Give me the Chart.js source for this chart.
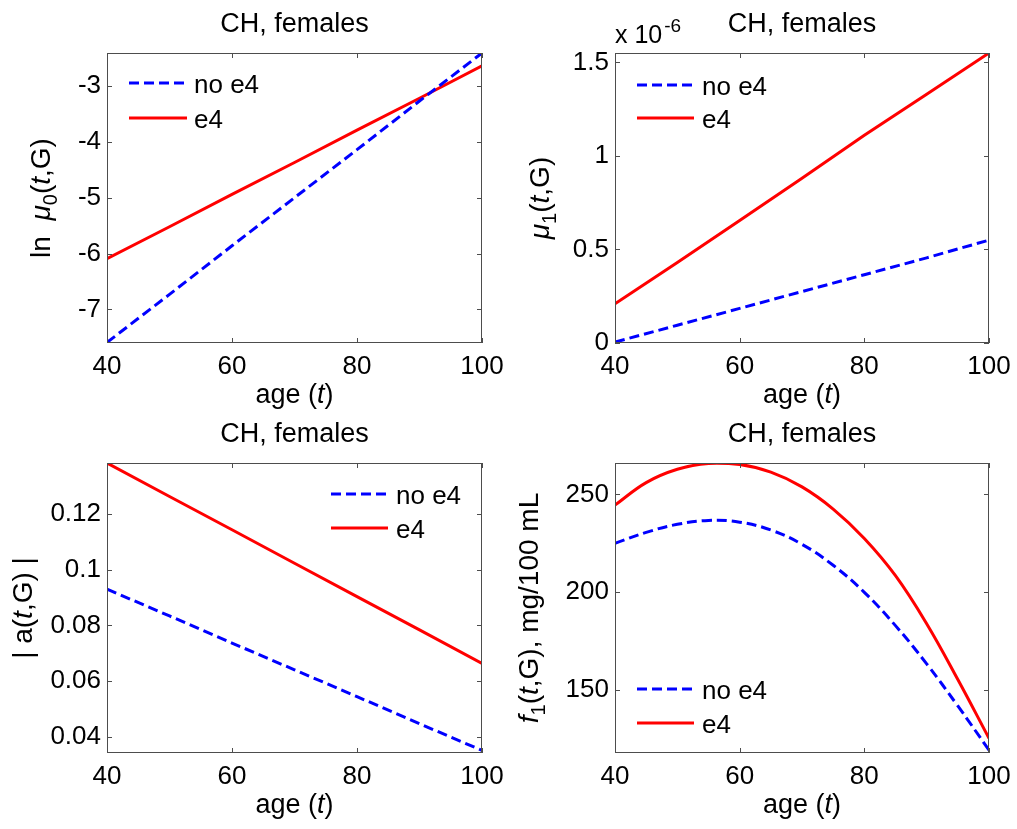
<!DOCTYPE html>
<html>
<head>
<meta charset="utf-8">
<title>CH, females</title>
<script src="https://cdn.jsdelivr.net/npm/chart.js@4.4.0/dist/chart.umd.min.js"></script>
<style>
  html, body { margin: 0; padding: 0; background: #fff; }
  #wrap { position: relative; width: 1017px; height: 829px; }
  #wrap canvas { position: absolute; left: 0; top: 0; }
</style>
</head>
<body>
<div id="wrap">
  <canvas id="c1" width="1017" height="829"></canvas>
  <canvas id="c2" width="1017" height="829"></canvas>
  <canvas id="c3" width="1017" height="829"></canvas>
  <canvas id="c4" width="1017" height="829"></canvas>
</div>
<script>
// data
const ageLin = [40, 50, 60, 70, 80, 90, 100]
const ageCurve = [40, 45, 50, 55, 60, 65, 70, 75, 80, 85, 90, 95, 100]

const lnMu0NoE4 = [-7.59, -6.73, -5.86, -5.00, -4.14, -3.27, -2.41]
const lnMu0E4 = [-6.09, -5.52, -4.94, -4.37, -3.79, -3.22, -2.64]

const mu1NoE4 = [0.005e-6, 0.095e-6, 0.185e-6, 0.275e-6, 0.365e-6, 0.455e-6, 0.55e-6]
const mu1E4 = [0.21e-6, 0.43e-6, 0.655e-6, 0.88e-6, 1.11e-6, 1.33e-6, 1.55e-6]

const aNoE4 = [0.0930, 0.0834, 0.0737, 0.0641, 0.0545, 0.0448, 0.0352]
const aE4 = [0.1382, 0.1262, 0.1143, 0.1023, 0.0903, 0.0784, 0.0664]

const f1NoE4 = [225, 230.6, 234.7, 236.7, 235.8, 231.8, 224.5, 213.8, 200, 183, 163.5, 142, 119.5]
const f1E4 = [244.5, 256, 262.8, 265.8, 265.2, 261.3, 253.8, 242.5, 227.5, 208.5, 184, 155.5, 125.5]

const xTicks = [40, 60, 80, 100]
const lnMu0Ticks = [-7, -6, -5, -4, -3]
const mu1Ticks = [0, 0.5e-6, 1e-6, 1.5e-6]
const aTicks = [0.04, 0.06, 0.08, 0.1, 0.12]
const f1Ticks = [150, 200, 250]

const seriesNames = ['no e4', 'e4']
const panelTitle = 'CH, females'

const FONT = '"Liberation Sans", Arial, Helvetica, sans-serif'
const W = 1017, H = 829

function drawParts(ctx, parts, x, y, rotate) {
    ctx.save()
    ctx.translate(x, y)
    if (rotate) ctx.rotate(-Math.PI / 2)
    const fontOf = p => (p.italic ? 'italic ' : '') + p.size + 'px ' + FONT
    let total = 0
    parts.forEach(p => {
        ctx.font = fontOf(p)
        p.w = ctx.measureText(p.text).width
        total += p.w
    })
    let cx = -total / 2
    ctx.textAlign = 'left'
    ctx.textBaseline = 'alphabetic'
    ctx.fillStyle = '#000'
    parts.forEach(p => {
        ctx.font = fontOf(p)
        ctx.fillText(p.text, cx, p.dy || 0)
        cx += p.w
    })
    ctx.restore()
}

const txt = (text, o) => Object.assign({ text: text, size: 28 }, o)
const sub = text => ({ text: text, size: 20, dy: 7 })

const matlabLook = {
    id: 'matlabLook',
    afterDraw(chart, args, o) {
        const ctx = chart.ctx
        const a = chart.chartArea
        const sx = chart.scales.x, sy = chart.scales.y
        ctx.save()
        ctx.strokeStyle = '#4d4d4d'
        ctx.lineWidth = 1
        ctx.strokeRect(a.left + 0.5, a.top + 0.5, a.right - a.left - 1, a.bottom - a.top - 1)
        ctx.beginPath()
        sx.ticks.forEach(t => {
            const px = Math.round(sx.getPixelForValue(t.value)) + 0.5
            ctx.moveTo(px, a.bottom); ctx.lineTo(px, a.bottom - 5)
            ctx.moveTo(px, a.top); ctx.lineTo(px, a.top + 5)
        })
        sy.ticks.forEach(t => {
            const py = Math.round(sy.getPixelForValue(t.value)) + 0.5
            ctx.moveTo(a.left, py); ctx.lineTo(a.left + 5, py)
            ctx.moveTo(a.right, py); ctx.lineTo(a.right - 5, py)
        })
        ctx.stroke()

        const cxm = (a.left + a.right) / 2
        const cym = (a.top + a.bottom) / 2
        drawParts(ctx, [txt(panelTitle, { size: 27 })], cxm, a.top - 21, false)
        drawParts(ctx, [txt('age (', { size: 27 }), txt('t', { size: 27, italic: true }), txt(')', { size: 27 })], cxm, a.bottom + 60, false)
        drawParts(ctx, o.yLabel, o.yLabelX, cym, true)

        if (o.exponent) {
            ctx.fillStyle = '#000'
            ctx.textAlign = 'left'
            ctx.textBaseline = 'alphabetic'
            ctx.font = '25px ' + FONT
            ctx.fillText('x 10', a.left, a.top - 10)
            const w = ctx.measureText('x 10').width
            ctx.font = '19px ' + FONT
            ctx.fillText('-6', a.left + w + 2, a.top - 21)
        }

        const lg = o.legend
        chart.data.datasets.forEach((ds, i) => {
            const y = lg.ys[i]
            ctx.strokeStyle = ds.borderColor
            ctx.lineWidth = ds.borderWidth
            ctx.setLineDash(ds.borderDash || [])
            ctx.beginPath()
            ctx.moveTo(lg.x1, y); ctx.lineTo(lg.x2, y)
            ctx.stroke()
            ctx.setLineDash([])
            ctx.fillStyle = '#000'
            ctx.font = '26px ' + FONT
            ctx.textAlign = 'left'
            ctx.textBaseline = 'alphabetic'
            ctx.fillText(ds.label, lg.tx, y + 10)
        })
        ctx.restore()
    }
}

function makePanel(id, box, ages, noE4, e4, yMin, yMax, yTicks, yFmt, yLabel, yLabelX, legend, smooth, exponent) {
    const pts = vals => vals.map((v, i) => ({ x: ages[i], y: v }))
    return new Chart(document.getElementById(id), {
        type: 'line',
        data: {
            datasets: [{
                label: seriesNames[0],
                data: pts(noE4),
                borderColor: '#0000ff',
                borderWidth: 3,
                borderDash: [10, 5],
                pointRadius: 0,
                tension: smooth ? 0.4 : 0,
                fill: false
            }, {
                label: seriesNames[1],
                data: pts(e4),
                borderColor: '#ff0000',
                borderWidth: 3,
                pointRadius: 0,
                tension: smooth ? 0.4 : 0,
                fill: false
            }]
        },
        options: {
            responsive: false,
            animation: false,
            events: [],
            layout: { padding: { left: 0, top: box.t, right: W - box.r, bottom: 0 } },
            plugins: {
                legend: { display: false },
                tooltip: { enabled: false },
                matlabLook: { yLabel: yLabel, yLabelX: yLabelX, legend: legend, exponent: exponent }
            },
            scales: {
                x: {
                    type: 'linear',
                    min: 40,
                    max: 100,
                    grid: { display: false, drawTicks: false },
                    border: { display: false },
                    afterBuildTicks: s => { s.ticks = xTicks.map(v => ({ value: v })) },
                    afterFit: s => { s.height = H - box.b; s.paddingLeft = 0; s.paddingRight = 0 },
                    ticks: {
                        padding: 8,
                        color: '#000',
                        maxRotation: 0,
                        font: { family: FONT, size: 26 },
                        callback: v => String(v)
                    }
                },
                y: {
                    type: 'linear',
                    min: yMin,
                    max: yMax,
                    grid: { display: false, drawTicks: false },
                    border: { display: false },
                    afterBuildTicks: s => { s.ticks = yTicks.map(v => ({ value: v })) },
                    afterFit: s => { s.width = box.l; s.paddingTop = 0; s.paddingBottom = 0 },
                    ticks: {
                        padding: 6,
                        color: '#000',
                        font: { family: FONT, size: 26 },
                        callback: yFmt
                    }
                }
            }
        },
        plugins: [matlabLook]
    })
}

makePanel('c1', { l: 107, t: 53, r: 482, b: 343 }, ageLin, lnMu0NoE4, lnMu0E4, -7.6, -2.41, lnMu0Ticks,
    v => String(v),
    [txt('ln  '), txt('\u03bc', { italic: true }), sub('0'), txt('('), txt('t', { italic: true }), txt(',G)')],
    50, { x1: 129, x2: 187, tx: 194, ys: [83, 118] }, false, false)

makePanel('c2', { l: 615, t: 53, r: 989, b: 343 }, ageLin, mu1NoE4, mu1E4, 0, 1.55e-6, mu1Ticks,
    v => String(Math.round(v / 1e-7) / 10),
    [txt('\u03bc', { italic: true }), sub('1'), txt('('), txt('t', { italic: true }), txt(',G)')],
    549, { x1: 637, x2: 694, tx: 702, ys: [85, 118] }, false, true)

makePanel('c3', { l: 107, t: 463, r: 482, b: 753 }, ageLin, aNoE4, aE4, 0.0343, 0.1382, aTicks,
    v => String(+v.toFixed(2)),
    [txt('| a('), txt('t', { italic: true }), txt(',G) |')],
    32, { x1: 331, x2: 388, tx: 396, ys: [494, 528] }, false, false)

makePanel('c4', { l: 615, t: 463, r: 989, b: 753 }, ageCurve, f1NoE4, f1E4, 118, 266, f1Ticks,
    v => String(v),
    [txt('f', { italic: true }), sub('1'), txt('('), txt('t', { italic: true }), txt(',G), mg/100 mL')],
    538, { x1: 637, x2: 694, tx: 702, ys: [689, 723] }, true, false)
</script>
</body>
</html>
